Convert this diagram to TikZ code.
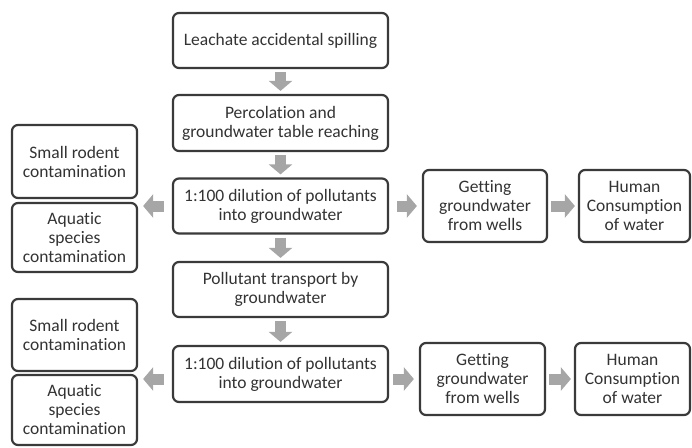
\documentclass[tikz,border=0pt]{standalone}
\usepackage{fontspec}
\setmainfont{Carlito}[Ligatures=NoCommon]
\usetikzlibrary{arrows.meta}
\definecolor{boxline}{HTML}{3A3A3A}
\definecolor{arrowgray}{HTML}{A6A6A6}
\tikzset{stepbox/.style={
  draw=boxline,
  line width=2.2pt,
  rounded corners=6pt,
  fill=white,
  text=black!80,
  align=center,
  inner sep=0pt,
  font=\fontsize{17.5}{19}\selectfont}}
\tikzset{mainbox/.style={
  stepbox,
  minimum width=215pt,
  minimum height=55pt}}
\tikzset{sidebox/.style={
  stepbox,
  minimum width=125pt}}
\tikzset{flowarrow/.style={
  draw=arrowgray,
  line width=11pt,
  -{Triangle[width=23pt,length=10pt]}}}

\begin{document}
\begin{tikzpicture}[x=1pt,y=-1pt]

  \useasboundingbox (0,0) rectangle (692,447);

  %%%% Main column %%%%
  \node[mainbox] (spill) at (280.5,40.5) {Leachate accidental spilling};
  \node[mainbox,minimum height=56pt] (perc) at (280.5,123) {Percolation and\\groundwater table reaching};
  \node[mainbox] (dil1) at (280.5,206) {1:100 dilution of pollutants\\into groundwater};
  \node[mainbox] (transp) at (280.5,289.5) {Pollutant transport by\\groundwater};
  \node[mainbox,minimum height=56pt] (dil2) at (280.5,374) {1:100 dilution of pollutants\\into groundwater};

  %%%% Left side %%%%
  \node[sidebox,minimum height=73pt] (rodent1) at (74.5,161.5) {Small rodent\\contamination};
  \node[sidebox,minimum height=69pt] (aqua1) at (74.5,237.5) {Aquatic\\species\\contamination};
  \node[sidebox,minimum height=72pt] (rodent2) at (74.5,335) {Small rodent\\contamination};
  \node[sidebox,minimum height=70pt] (aqua2) at (74.5,410) {Aquatic\\species\\contamination};

  %%%% Right side %%%%
  \node[stepbox,minimum width=124pt,minimum height=72pt] (wells1) at (485,206) {Getting\\groundwater\\from wells};
  \node[stepbox,minimum width=111pt,minimum height=72pt] (human1) at (634.5,206) {Human\\Consumption\\of water};
  \node[stepbox,minimum width=125pt,minimum height=72pt] (wells2) at (482.5,379) {Getting\\groundwater\\from wells};
  \node[stepbox,minimum width=115pt,minimum height=72pt] (human2) at (632.5,379) {Human\\Consumption\\of water};

  %% Down arrows
  \foreach \a/\b in {spill/perc,perc/dil1,dil1/transp,transp/dil2}{
    \draw[flowarrow,shorten <=3pt,shorten >=3pt] (\a) -- (\b);
  }

  %% Side arrows
  \draw[flowarrow,shorten <=8pt,shorten >=5pt] (dil1.west) -- (dil1.west -| rodent1.east);
  \draw[flowarrow,shorten <=8pt,shorten >=5pt] (dil2.west |- wells2) -- (wells2 -| rodent2.east);
  \draw[flowarrow,shorten <=8pt,shorten >=5pt] (dil1) -- (wells1);
  \draw[flowarrow,shorten <=3pt,shorten >=3pt] (wells1) -- (human1);
  \draw[flowarrow,shorten <=4pt,shorten >=5pt] (dil2.east |- wells2) -- (wells2);
  \draw[flowarrow,shorten <=3pt,shorten >=3pt] (wells2) -- (human2);

\end{tikzpicture}
\end{document}
